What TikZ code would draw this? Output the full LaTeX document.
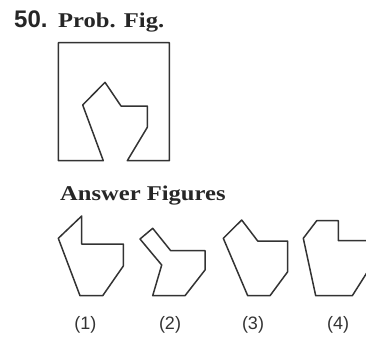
\documentclass[tikz,border=0pt]{standalone}
\usepackage{fontspec}
\setmainfont{Liberation Serif}
\newfontfamily\headfont{Liberation Serif}[FakeStretch=1.17]
\newfontfamily\numfont{Liberation Sans}
\begin{document}
\begin{tikzpicture}[x=1pt,y=-1pt,
  fig/.style={draw=black!80, line width=1.5pt, line join=round},
  head/.style={inner sep=0pt, anchor=base west, font=\headfont\bfseries\fontsize{21}{21}\selectfont, text=black!85},
  lab/.style={inner sep=0pt, anchor=base, font=\numfont\fontsize{18}{18}\selectfont, text=black!80}]
\useasboundingbox (0,0) rectangle (366,338);
\begin{scope}
\clip (0,0) rectangle (366,338);
\node[inner sep=0pt, anchor=base west, font=\numfont\bfseries\fontsize{24}{24}\selectfont, text=black!85] (num) at (14,27) {50.};
\node[head] (prob) at (58,27) {Prob. Fig.};
% problem figure
\draw[fig] (103.3,160.7) -- (58.3,160.7) -- (58.3,42.7) -- (169.3,42.7) -- (169.3,160.7) -- (127.3,160.7)
  -- (147.3,127.3) -- (147.3,106) -- (121,106) -- (105,82.3) -- (82.7,105) -- cycle;
\node[head] (ans) at (60,200.5) {Answer Figures};
% answer 1
\draw[fig] (81.7,216) -- (81.7,244) -- (123.3,244) -- (123.3,266) -- (102.7,295.7) -- (80,295.7) -- (58.3,238.3) -- cycle;
% answer 2
\draw[fig] (152.7,228.3) -- (170.7,250.7) -- (205,250.7) -- (205,270) -- (185,295.7) -- (152.7,295.7) -- (161.7,265) -- (140,239) -- cycle;
% answer 3
\draw[fig] (241.7,220) -- (257.7,241) -- (287.7,241) -- (287.7,271.7) -- (270,295.7) -- (247.7,295.7) -- (223.3,238.3) -- cycle;
% answer 4
\draw[fig] (316.7,220.7) -- (338.3,220.7) -- (338.3,240.7) -- (380,240.7) -- (380,250) -- (380,252) -- (352.3,295.7) -- (315.7,295.7) -- (303.3,238.3) -- cycle;
\node[lab] (l1) at (85.3,329) {(1)};
\node[lab] (l2) at (170,329) {(2)};
\node[lab] (l3) at (253,329) {(3)};
\node[lab] (l4) at (338,329) {(4)};
\end{scope}
\end{tikzpicture}
\end{document}
